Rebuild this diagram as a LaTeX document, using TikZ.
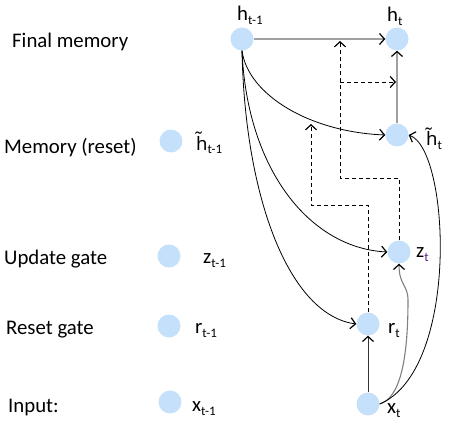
\documentclass[tikz,border=0pt]{standalone}
\usepackage{fontspec}
\setmainfont{Carlito}
\newfontfamily\tfont{Noto Sans}
\usetikzlibrary{arrows.meta}
\definecolor{nodeblue}{RGB}{197,224,250}
\definecolor{lgray}{RGB}{160,160,160}
\definecolor{subpurple}{RGB}{90,30,120}
\newcommand\lbl[2]{#1\raisebox{-4pt}{\fontsize{13}{13}\selectfont #2}}
\newcommand\tildeh{{\tfont\fontsize{18.5}{20}\selectfont h^^^^0303}}
\begin{document}
\begin{tikzpicture}[x=1pt,y=-1pt,
  dot/.style={circle,fill=nodeblue,minimum size=23pt,inner sep=0pt},
  txt/.style={anchor=base west,inner sep=0pt,font=\fontsize{20.8}{24}\selectfont},
  arr/.style={-{Straight Barb[length=5pt,width=11pt,line width=1.2pt,color=black]}},
  curve/.style={arr,line width=0.8pt},
  glin/.style={arr,draw=lgray,line width=1.5pt},
  dsh/.style={arr,dash pattern=on 4pt off 3pt,line width=0.9pt}]
\useasboundingbox (0,0) rectangle (458,425);
% nodes
\node[dot] (ht1) at (242,39) {};
\node[dot] (ht) at (397,39) {};
\node[dot] (htt) at (397,135) {};
\node[dot] (zt) at (399,252) {};
\node[dot] (rt) at (368,324) {};
\node[dot] (xt) at (368,404) {};
\node[dot] (hp) at (171,141) {};
\node[dot] (zp) at (169,256) {};
\node[dot] (rp) at (169,326) {};
\node[dot] (xp) at (170,402) {};
% left texts
\node[txt] (l1) at (12,48) {Final memory};
\node[txt] (l2) at (4,154) {Memory (reset)};
\node[txt] (l3) at (4,264) {Update gate};
\node[txt] (l4) at (6,334) {Reset gate};
\node[txt] (l5) at (8,412) {Input:};
% node labels
\node[txt] (tht1) at (237,21) {\lbl{h}{t-1}};
\node[txt] (tht) at (387,22) {\lbl{h}{t}};
\node[txt] (thtt) at (426,146) {\lbl{\tildeh}{t}};
\node[txt] (tzt) at (416,257) {\lbl{z}{\color{subpurple}t}};
\node[txt] (trt) at (388,333) {\lbl{r}{t}};
\node[txt] (txt) at (387,413) {\lbl{x}{t}};
\node[txt] (thp) at (196,150) {\lbl{\tildeh}{t-1}};
\node[txt] (tzp) at (203,263) {\lbl{z}{t-1}};
\node[txt] (trp) at (195,333) {\lbl{r}{t-1}};
\node[txt] (txp) at (192,411) {\lbl{x}{t-1}};
% solid connectors
\draw[glin] (ht1) -- (ht);
\draw[glin] (htt) -- (ht);
\draw[curve] (ht1.south) .. controls (248,95) and (310,132) .. (htt.west);
\draw[curve] (ht1.south) .. controls (247,170) and (310,248) .. (zt.west);
\draw[curve] (ht1.south) .. controls (245,200) and (290,315) .. (rt.west);
\draw[curve,line width=1pt,draw=black!80] (xt) -- (rt);
\draw[arr,draw=gray,line width=1.1pt] (xt.east) .. controls (400,398) and (408,360) .. (408,300) .. controls (408,285) and (399,285) .. (zt.south);
\draw[curve] (xt.east) .. controls (460,370) and (450,150) .. (htt.east);
% dashed connectors
\coordinate (m1) at (340,41);
\coordinate (m2) at (396,82);
\coordinate (m3) at (311,124);
\draw[dsh] (zt.north) -- (399,178) -- (340,178) -- (m1);
\draw[dsh] (340,82) -- (m2);
\draw[dsh] (rt.north) -- (368,205) -- (311,205) -- (m3);
\end{tikzpicture}
\end{document}
